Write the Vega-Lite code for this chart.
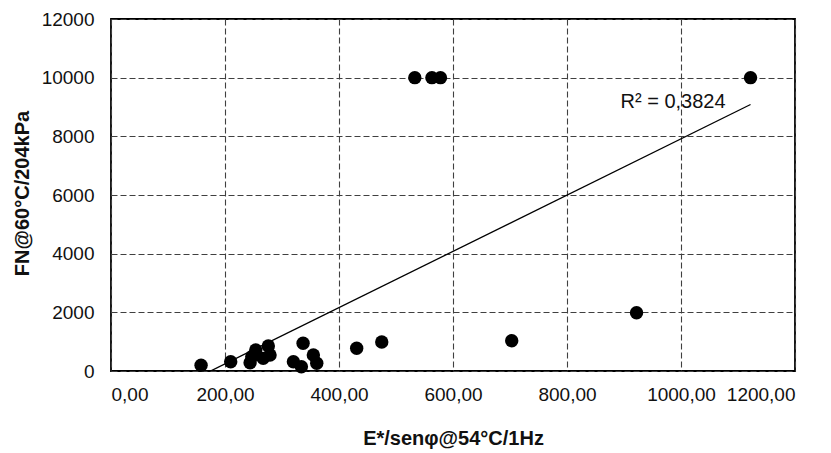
{
  "$schema": "https://vega.github.io/schema/vega-lite/v6.json",
  "width": 684,
  "height": 352,
  "autosize": {"type": "none"},
  "padding": {"left": 111, "top": 19, "right": 36, "bottom": 82},
  "background": "white",
  "config": {
    "font": "Liberation Sans",
    "view": {"stroke": "#000000", "strokeWidth": 1.8},
    "axis": {
      "grid": true,
      "gridColor": "#404040",
      "gridDash": [6, 3],
      "gridWidth": 1.1,
      "domain": false,
      "ticks": false,
      "labelFont": "Liberation Sans",
      "labelFontSize": 19,
      "labelColor": "#111111",
      "titleFont": "Liberation Sans",
      "titleFontSize": 20,
      "titleFontWeight": "bold",
      "titleColor": "#111111"
    }
  },
  "datasets": {
    "pts": [
      {"x": 158, "y": 200},
      {"x": 210, "y": 317},
      {"x": 244, "y": 284},
      {"x": 247, "y": 488},
      {"x": 254, "y": 716},
      {"x": 267, "y": 431},
      {"x": 276, "y": 852},
      {"x": 279, "y": 545},
      {"x": 320, "y": 317},
      {"x": 334, "y": 147},
      {"x": 337, "y": 944},
      {"x": 355, "y": 545},
      {"x": 361, "y": 262},
      {"x": 431, "y": 773},
      {"x": 475, "y": 988},
      {"x": 533, "y": 10000},
      {"x": 563, "y": 10000},
      {"x": 578, "y": 10000},
      {"x": 703, "y": 1032},
      {"x": 922, "y": 1986},
      {"x": 1122, "y": 10000}
    ],
    "ann": [
      {"x": 986, "y": 9165, "label": "R² = 0,3824"}
    ]
  },
  "layer": [
    {
      "data": {"name": "pts"},
      "mark": {"type": "circle", "size": 180, "color": "#000000", "opacity": 1},
      "encoding": {
        "x": {
          "field": "x",
          "type": "quantitative",
          "scale": {"domain": [0, 1200], "nice": false},
          "axis": {
            "values": [0, 200, 400, 600, 800, 1000, 1200],
            "labelExpr": "replace(format(datum.value, '.2f'), '.', ',')",
            "labelPadding": 14,
            "title": "E*/senφ@54°C/1Hz",
            "titleX": 342,
            "titleY": 67,
            "titleBaseline": "middle",
            "titleAlign": "center"
          }
        },
        "y": {
          "field": "y",
          "type": "quantitative",
          "scale": {"domain": [0, 12000], "nice": false},
          "axis": {
            "values": [0, 2000, 4000, 6000, 8000, 10000, 12000],
            "format": "d",
            "labelPadding": 17,
            "title": "FN@60°C/204kPa",
            "titleX": -89,
            "titleY": 174,
            "titleAngle": -90,
            "titleBaseline": "middle",
            "titleAlign": "center"
          }
        }
      }
    },
    {
      "data": {"name": "pts"},
      "transform": [{"regression": "y", "on": "x"}],
      "mark": {"type": "line", "color": "#000000", "strokeWidth": 1.3, "clip": true},
      "encoding": {
        "x": {"field": "x", "type": "quantitative"},
        "y": {"field": "y", "type": "quantitative"}
      }
    },
    {
      "data": {"name": "ann"},
      "mark": {"type": "text", "fontSize": 20, "align": "center", "baseline": "middle", "color": "#111111", "font": "Liberation Sans"},
      "encoding": {
        "x": {"field": "x", "type": "quantitative"},
        "y": {"field": "y", "type": "quantitative"},
        "text": {"field": "label"}
      }
    }
  ]
}
